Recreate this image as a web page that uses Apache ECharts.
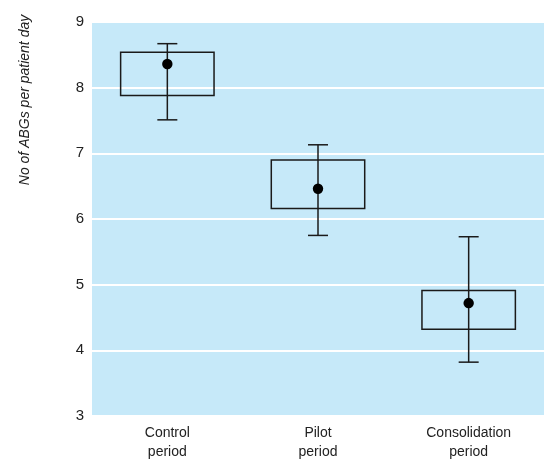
<!DOCTYPE html>
<html><head><meta charset="utf-8">
<script src="https://cdn.jsdelivr.net/npm/echarts@6/dist/echarts.min.js"></script>
<style>html,body{margin:0;padding:0;background:#fff}#c{width:544px;height:460px}</style>
</head><body><div id="c"></div>
<script>
const categories = ['Control\nperiod', 'Pilot\nperiod', 'Consolidation\nperiod'];
const whiskerLow = [7.51, 5.75, 3.82];
const boxLow = [7.88, 6.16, 4.32];
const meanVals = [8.36, 6.46, 4.72];
const boxHigh = [8.54, 6.90, 4.91];
const whiskerHigh = [8.67, 7.13, 5.73];
const yTicks = [3, 4, 5, 6, 7, 8, 9];

const FONT = "'Liberation Sans Narrow', 'Liberation Sans', Arial, sans-serif";
const data = categories.map((c, i) => [i, whiskerLow[i], boxLow[i], meanVals[i], boxHigh[i], whiskerHigh[i]]);

const chart = echarts.init(document.getElementById('c'), null, {renderer: 'canvas'});
chart.setOption({
  animation: false,
  grid: {left: 92, right: 0, top: 22, bottom: 44, show: true, backgroundColor: '#c6e9f9', borderWidth: 0,
         containLabel: false, outerBoundsMode: 'none'},
  xAxis: {
    type: 'category', data: categories,
    axisLine: {show: false}, axisTick: {show: false},
    axisLabel: {color: '#222', fontFamily: FONT, fontSize: 14, lineHeight: 19, margin: 8}
  },
  yAxis: {
    type: 'value', min: yTicks[0], max: yTicks[yTicks.length - 1], interval: 1,
    axisLine: {show: false}, axisTick: {show: false},
    axisLabel: {color: '#222', fontFamily: FONT, fontSize: 15, margin: 8},
    splitLine: {lineStyle: {color: '#ffffff', width: 2}}
  },
  graphic: [{
    type: 'text', x: 25, y: 100, rotation: Math.PI / 2,
    style: {text: 'No of ABGs per patient day', fill: '#222', font: 'italic 14px ' + FONT, align: 'center', verticalAlign: 'middle'}
  }],
  series: [{
    type: 'custom',
    data: data,
    renderItem: function (params, api) {
      const x = api.value(0);
      const band = api.size([1, 0])[0];
      const bw = band * 0.62;
      const cw = 20;
      const pLo = api.coord([x, api.value(1)]);
      const pQ1 = api.coord([x, api.value(2)]);
      const pM = api.coord([x, api.value(3)]);
      const pQ3 = api.coord([x, api.value(4)]);
      const pHi = api.coord([x, api.value(5)]);
      const cx = pM[0];
      const ls = {stroke: '#1a1a1a', lineWidth: 1.5, fill: null};
      return {
        type: 'group',
        children: [
          {type: 'rect', shape: {x: cx - bw / 2, y: pQ3[1], width: bw, height: pQ1[1] - pQ3[1]}, style: ls},
          {type: 'line', shape: {x1: cx, y1: pHi[1], x2: cx, y2: pLo[1]}, style: ls},
          {type: 'line', shape: {x1: cx - cw / 2, y1: pHi[1], x2: cx + cw / 2, y2: pHi[1]}, style: ls},
          {type: 'line', shape: {x1: cx - cw / 2, y1: pLo[1], x2: cx + cw / 2, y2: pLo[1]}, style: ls},
          {type: 'circle', shape: {cx: cx, cy: pM[1], r: 5.2}, style: {fill: '#000'}}
        ]
      };
    }
  }]
});
</script></body></html>
